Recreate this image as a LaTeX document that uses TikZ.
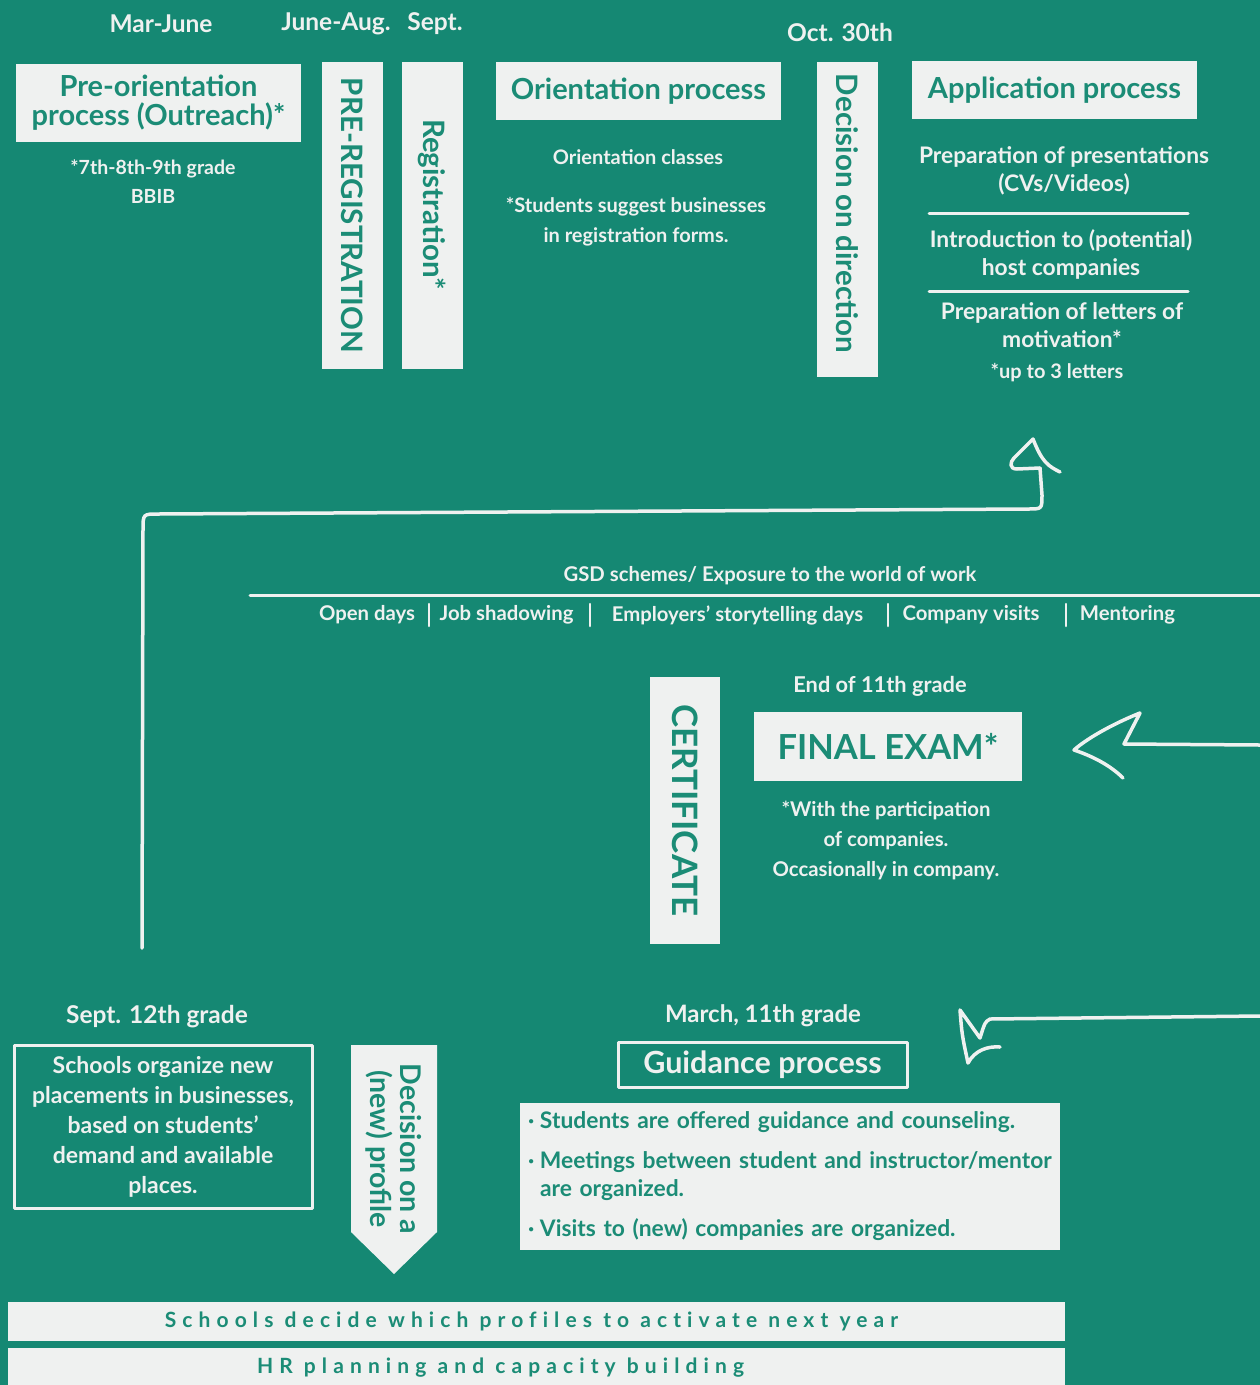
\documentclass[tikz,border=0pt]{standalone}
\usepackage{fontspec}
\setmainfont{Lato}
\usepackage{tikz}
\usetikzlibrary{positioning}
\definecolor{verde}{HTML}{158873}
\definecolor{claro}{HTML}{EFF1F0}
\definecolor{tinta}{HTML}{1B8C76}
\newcommand{\tam}[2]{\fontsize{#1}{#2}\selectfont\bfseries}
\tikzset{
  every picture/.style={line join=round, line cap=round},
  caja/.style={fill=claro, text=tinta, inner sep=0pt, align=center},
  marco/.style={draw=claro, line width=3pt, text=claro, inner sep=0pt, align=center},
  titulo/.style={font=\tam{29}{29}},
  vert/.style={rotate=-90, font=\tam{29.5}{30}},
  fecha/.style={text=claro, font=\tam{24.5}{27}},
  nota/.style={text=claro, align=center, font=\tam{20}{30}},
  item/.style={text=claro, align=center, font=\tam{22.8}{28.5}},
  lista/.style={text=claro, font=\tam{20.3}{24}},
  barra/.style={caja, minimum width=1057pt, font=\tam{21}{24}\addfontfeature{LetterSpace=29, Ligatures=NoCommon}},
  linea/.style={draw=claro, line width=3pt},
  trazo/.style={draw=claro, line width=3.5pt},
}

\begin{document}
\begin{tikzpicture}[x=1pt, y=-1pt]
  \useasboundingbox (0,0) rectangle (1260,1385);
  \fill[verde] (0,0) rectangle (1260,1385);

  \node[fecha] (marjun) at (161,24) {Mar-June};
  \node[fecha] (junaug) at (336,24) {June-Aug.};
  \node[fecha] (sept) at (435,24) {Sept.};
  \node[fecha] (oct) at (840,32) {Oct. 30th};

  \node[caja, titulo, minimum width=285pt, minimum height=78pt] (preor) at (158.5,103) {Pre-orientation\\process (Outreach)*};
  \node[nota, font=\tam{19.5}{29}] (grados) at (153,181.5) {*7th-8th-9th grade\\BBIB};
  \node[caja, vert, minimum width=307pt, minimum height=61pt] (prereg) at (352.5,215.5) {PRE-REGISTRATION};
  \node[caja, vert, minimum width=307pt, minimum height=61pt] (regis) at (432.5,215.5) {Registration*\hspace*{22pt}};

  \node[caja, titulo, minimum width=285pt, minimum height=58pt] (orient) at (638.5,91) {Orientation process};
  \node[nota] (clases) at (638,157) {Orientation classes};
  \node[nota] (sugiere) at (636,222) {*Students suggest businesses\\in registration forms.};

  \node[caja, vert, minimum width=315pt, minimum height=61pt] (decdir) at (847.5,219.5) {Decision on direction\hspace*{12pt}};

  \node[caja, titulo, minimum width=285pt, minimum height=58pt] (aplic) at (1054.5,90) {Application process};
  \node[item] (present) at (1064,171) {Preparation of presentations\\(CVs/Videos)};
  \node[item] (intro) at (1061,254.5) {Introduction to (potential)\\host companies};
  \node[item] (cartas) at (1062,325) {Preparation of letters of\\motivation*};
  \node[nota] (tres) at (1057,373) {*up to 3 letters};
  \draw[linea] (929,213) -- (1188,213);
  \draw[linea] (929,291) -- (1188,291);

  \node[lista] (gsd) at (770,576) {GSD schemes/ Exposure to the world of work};
  \draw[linea] (250,595) -- (1260,595);
  \node[lista] (abierto) at (367,615) {Open days};
  \node[lista] (sombra) at (506.5,615) {Job shadowing};
  \node[lista] (relatos) at (737.5,615) {Employers’ storytelling days};
  \node[lista] (visitas) at (971,615) {Company visits};
  \node[lista] (mentor) at (1127.5,615) {Mentoring};
  \foreach \x in {429,590,888,1066}
    \draw[linea, line width=2.5pt] (\x,604) -- (\x,626);

  \node[caja, rotate=-90, minimum width=267pt, minimum height=70pt, font=\tam{35}{38}] (certif) at (685,810.5) {CERTIFICATE};
  \node[fecha, font=\tam{21.8}{25}] (fin11) at (880,686) {End of 11th grade};
  \node[caja, minimum width=268pt, minimum height=69pt, font=\tam{34.5}{38}] (examen) at (888,746.5) {FINAL EXAM*};
  \node[nota, font=\tam{20.3}{30}] (particip) at (886,840) {*With the participation\\of companies.\\Occasionally in company.};

  \node[fecha] (sep12) at (157,1017) {Sept. 12th grade};
  \node[marco, minimum width=298pt, minimum height=163pt, font=\tam{23}{30}] (plazas) at (163,1126.5) {Schools organize new\\placements in businesses,\\based on students’\\demand and available\\places.};

  \fill[claro] (351,1045) -- (437,1045) -- (437,1232) -- (394,1274) -- (351,1232) -- cycle;
  \node[text=tinta, rotate=-90, align=center, font=\tam{28.5}{30}] (dperfil) at (394,1149) {Decision on a\\(new) profile};

  \node[fecha, font=\tam{24}{27}] (mar11) at (763,1016) {March, 11th grade};
  \node[marco, minimum width=289pt, minimum height=45pt, font=\tam{30.5}{30}] (guia) at (762.5,1064.5) {Guidance process};
  \node[caja, align=left, text width=524pt, inner xsep=8pt, minimum height=147pt, font=\tam{22.8}{28}] (vinetas) at (790,1176.5)
    {\makebox[12pt][l]{·}Students are offered guidance and counseling.\\[12pt]
     \makebox[12pt][l]{·}Meetings between student and instructor/mentor\\
     \hspace*{12pt}are organized.\\[12pt]
     \makebox[12pt][l]{·}Visits to (new) companies are organized.};

  \node[barra, minimum height=39pt] (perfiles) at (536.5,1321.5) {Schools decide which profiles to activate next year\hspace*{10pt}};
  \node[barra, minimum height=40pt] (rrhh) at (536.5,1368) {HR planning and capacity building\hspace*{72pt}};

  \coordinate (ini1) at (142,948);
  \coordinate (fin1) at (1040,468);
  \draw[trazo] (ini1) -- (143,530) .. controls (143,514) .. (158,514) -- (1028,509) .. controls (1042,509) .. (1042,495) -- (fin1);
  \draw[trazo] (fin1) -- (1017,469) .. controls (1009,469) and (1010,462) .. (1014,458) -- (1033,439) .. controls (1042,462) and (1048,466) .. (1060,472);

  \coordinate (ini2) at (1260,745);
  \coordinate (fin2) at (1124,744);
  \draw[trazo] (ini2) -- (fin2) -- (1140,713) .. controls (1110,725) and (1085,740) .. (1074,750) .. controls (1092,756) and (1110,765) .. (1123,778);

  \coordinate (ini3) at (1260,1016);
  \coordinate (fin3) at (990,1019);
  \draw[trazo] (ini3) -- (fin3) .. controls (985,1022) .. (980,1038) -- (960,1010) .. controls (962,1035) .. (968,1063) .. controls (975,1050) and (988,1046) .. (1000,1047);
\end{tikzpicture}
\end{document}
